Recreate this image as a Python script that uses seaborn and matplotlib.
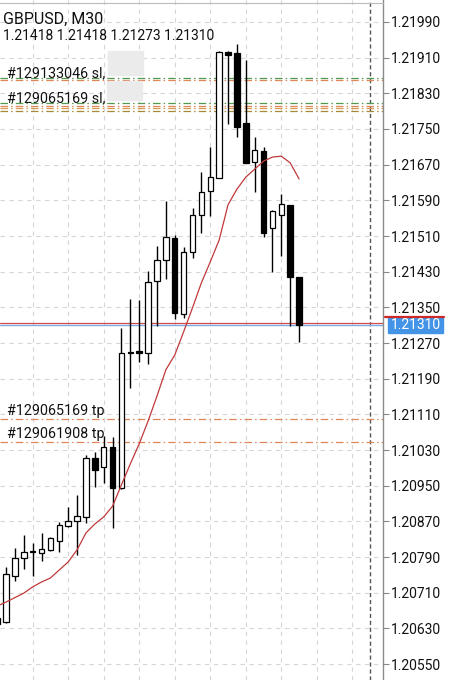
import matplotlib
matplotlib.use("Agg")
import matplotlib.pyplot as plt
import seaborn as sns
import numpy as np

# GBPUSD M30 candles (index -1 is the half-hidden bar at the left edge)
candle_idx = list(range(-1, 34))
opens = [1.20653, 1.20645, 1.20748, 1.20787, 1.20802, 1.20799, 1.20806, 1.20827, 1.20860, 1.20870,
         1.20879, 1.21011, 1.20991, 1.21037, 1.20944, 1.21249, 1.21251, 1.21248, 1.21409, 1.21456,
         1.21506, 1.21335, 1.21473, 1.21556, 1.21611, 1.21641, 1.21923, 1.21921, 1.21763, 1.21675,
         1.21701, 1.21528, 1.21557, 1.21580, 1.21418]
highs = [1.20662, 1.20767, 1.20810, 1.20839, 1.20821, 1.20843, 1.20836, 1.20869, 1.20902, 1.20929,
         1.21019, 1.21026, 1.21062, 1.21059, 1.21303, 1.21368, 1.21367, 1.21432, 1.21488, 1.21589,
         1.21512, 1.21485, 1.21572, 1.21654, 1.21710, 1.21924, 1.21926, 1.21941, 1.21905, 1.21733,
         1.21710, 1.21568, 1.21604, 1.21580, 1.21418]
lows = [1.20633, 1.20641, 1.20737, 1.20763, 1.20748, 1.20782, 1.20803, 1.20802, 1.20857, 1.20795,
        1.20867, 1.20948, 1.20955, 1.20855, 1.20943, 1.21168, 1.21227, 1.21223, 1.21309, 1.21413,
        1.21323, 1.21327, 1.21461, 1.21517, 1.21555, 1.21640, 1.21761, 1.21731, 1.21673, 1.21608,
        1.21508, 1.21430, 1.21466, 1.21309, 1.21273]
closes = [1.20640, 1.20751, 1.20787, 1.20801, 1.20801, 1.20807, 1.20832, 1.20862, 1.20871, 1.20881,
          1.21011, 1.20985, 1.21037, 1.20945, 1.21248, 1.21248, 1.21248, 1.21407, 1.21456, 1.21507,
          1.21338, 1.21474, 1.21557, 1.21609, 1.21642, 1.21922, 1.21917, 1.21755, 1.21674, 1.21703,
          1.21517, 1.21565, 1.21581, 1.21419, 1.21310]
ma_values = [1.20680, 1.20689, 1.20699, 1.20709, 1.20723, 1.20734, 1.20743, 1.20761, 1.20779, 1.20806,
             1.20844, 1.20864, 1.20880, 1.20904, 1.20952, 1.20999, 1.21044, 1.21095, 1.21151, 1.21210,
             1.21243, 1.21295, 1.21349, 1.21405, 1.21452, 1.21501, 1.21580, 1.21615, 1.21642, 1.21660,
             1.21678, 1.21687, 1.21689, 1.21674, 1.21638]

price_ticks = [1.20550, 1.20630, 1.20710, 1.20790, 1.20870, 1.20950, 1.21030, 1.21110, 1.21190,
               1.21270, 1.21350, 1.21430, 1.21510, 1.21590, 1.21670, 1.21750, 1.21830, 1.21910, 1.21990]

sl_labels = ["#129133046 sl,", "#129065169 sl,"]
sl_label_prices = [1.21876, 1.21818]
sl_lines = [1.21865, 1.21860, 1.21808, 1.21802, 1.21796, 1.21791]
sl_colors = ["#4f9a4f", "#e0875a", "#4f9a4f", "#e0875a", "#d89a50", "#a8893a"]
tp_labels = ["#129065169 tp", "#129061908 tp"]
tp_prices = [1.21099, 1.21048]
bid, ask = 1.21310, 1.21315
symbol = "GBPUSD, M30"
ohlc_text = "1.21418 1.21418 1.21273 1.21310"

sns.set_style("white")
plt.rcParams["font.family"] = ["Roboto", "DejaVu Sans"]

W, H = 455, 680
fig = plt.figure(figsize=(W / 100, H / 100), dpi=100)
ax = fig.add_axes([0, 0, 383 / W, 1])
ax.set_xlim(-0.676, 42.45)
ax.set_ylim(1.205142, 1.220393)

# grid
ax.set_yticks(price_ticks)
ax.set_yticklabels([f"{p:.5f}" for p in price_ticks])
ax.set_xticks(list(range(3, 42, 4)))
ax.set_xticklabels([])
ax.grid(True, color="#d6d6d6", lw=0.8, linestyle=(0, (4, 4)))
ax.tick_params(axis="x", length=0)
ax.yaxis.tick_right()
ax.tick_params(axis="y", direction="out", length=4, width=0.8, color="#888888",
               labelsize=10, pad=2, labelcolor="#111111")
for s in ["top", "left", "bottom"]:
    ax.spines[s].set_visible(False)
ax.spines["right"].set_color("#8a8a8a")
ax.spines["right"].set_linewidth(1)

# separator
ax.axvline(41, color="#555555", lw=1, linestyle=(0, (3, 2)), zorder=1)

# order lines
for p, c in zip(sl_lines, sl_colors):
    ax.axhline(p, color=c, lw=0.9, linestyle=(0, (6, 2.5, 1.2, 2.5)), zorder=1)
for p in tp_prices:
    ax.axhline(p, color="#e0875a", lw=0.9, linestyle=(0, (6, 2.5, 1.2, 2.5)), zorder=1)
ax.axhline(ask, color="#d24a4a", lw=0.9, zorder=1)
ax.axhline(bid, color="#7ea9e6", lw=1.0, zorder=1)

# candles
for i, o, h, l, c in zip(candle_idx, opens, highs, lows, closes):
    ax.vlines(i, l, h, color="black", lw=1, zorder=2)
    bottom = min(o, c)
    height = max(abs(c - o), 0.00002)
    face = "white" if c >= o else "black"
    ax.bar(i, height, bottom=bottom, width=0.62, color=face, edgecolor="black", lw=0.9, zorder=3)

sns.lineplot(x=candle_idx, y=ma_values, ax=ax, color="#c0393a", lw=0.9, zorder=4)

# labels on the chart
for t, p in zip(sl_labels, sl_label_prices):
    ax.text(0.1, p, t, fontsize=10.3, va="center", ha="left", color="#111111", zorder=5)
ax.add_patch(plt.Rectangle((11.5, 1.21872), 3.9, 0.00052, color="#ebebeb", zorder=6))
ax.add_patch(plt.Rectangle((11.4, 1.21815), 3.9, 0.00042, color="#ebebeb", zorder=6))
for t, p in zip(tp_labels, tp_prices):
    ax.text(0.1, p + 0.00019, t, fontsize=10.3, va="center", ha="left", color="#111111", zorder=5)

fig.text(3 / W, 1 - 19 / H, symbol, fontsize=11.5, va="center", ha="left", color="#111111")
fig.text(3 / W, 1 - 35.5 / H, ohlc_text, fontsize=10, va="center", ha="left", color="#111111")
fig.add_artist(plt.Line2D([0, 383 / W], [1 - 3 / H, 1 - 3 / H], color="#bbbbbb", lw=0.8))

# current price tag
tag_y = 1 - 325 / H
fig.add_artist(plt.Rectangle((388 / W, tag_y - 8 / H), 55 / W, 16 / H, color="#4394e6", zorder=5))
fig.add_artist(plt.Line2D([385 / W, 444 / W], [1 - 316.5 / H, 1 - 316.5 / H], color="#d02828", lw=1.6, zorder=6))
fig.text(415.5 / W, tag_y, f"{bid:.5f}", fontsize=10, color="white", ha="center", va="center", zorder=7)

fig.savefig("out.png", dpi=100)
